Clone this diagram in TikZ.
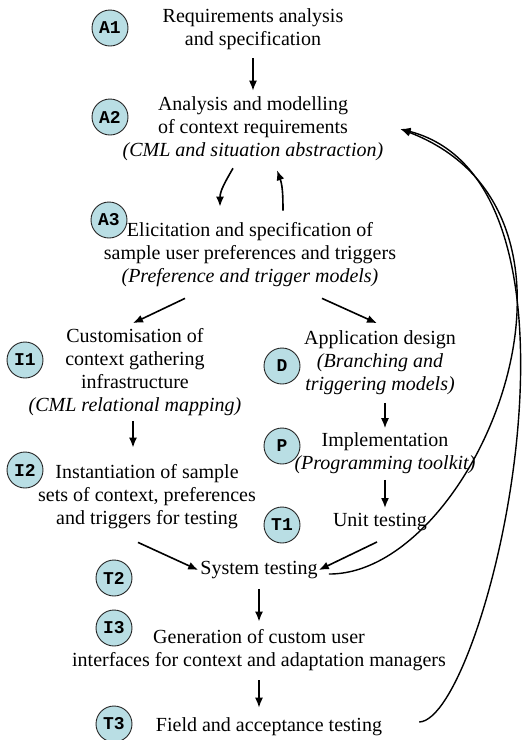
\documentclass[tikz,border=0pt]{standalone}
\usepackage{fontspec}
\setmainfont{Liberation Serif}
\setmonofont{Liberation Mono}
\usetikzlibrary{arrows.meta}
\definecolor{badgeblue}{RGB}{185,222,228}

\begin{document}
\begin{tikzpicture}[x=1pt,y=-1pt,
	badge/.style={circle,draw=black!85,line width=0.9pt,fill=badgeblue,minimum size=36pt,inner sep=0pt,font=\fontsize{18}{18}\selectfont\ttfamily\bfseries},
	stage/.style={align=center,inner sep=0pt,font=\fontsize{20}{23}\selectfont},
	arr/.style={-{Latex[length=10pt,width=8pt]},line width=1.6pt}]
	\useasboundingbox (0,0) rectangle (526,740);
	% badges
	\node[badge] (bA1) at (110,28) {A1};
	\node[badge] (bA2) at (110,117) {A2};
	\node[badge] (bA3) at (109,220) {A3};
	\node[badge] (bI1) at (25,360) {I1};
	\node[badge] (bI2) at (25,470) {I2};
	\node[badge] (bD) at (282,366) {D};
	\node[badge] (bP) at (282,446) {P};
	\node[badge] (bT1) at (282,525) {T1};
	\node[badge] (bT2) at (114,578) {T2};
	\node[badge] (bI3) at (114,628) {I3};
	\node[badge] (bT3) at (114,724) {T3};
	% stages
	\node[stage] (req) at (253,29.5) {Requirements analysis\\and specification};
	\node[stage] (ctx) at (253,129) {Analysis and modelling\\of context requirements\\\textit{(CML and situation abstraction)}};
	\node[stage] (pref) at (250,255) {Elicitation and specification of\\sample user preferences and triggers\\\textit{(Preference and trigger models)}};
	\node[stage] (infra) at (135,372) {Customisation of\\context gathering\\infrastructure\\\textit{(CML relational mapping)}};
	\node[stage] (inst) at (147,497) {Instantiation of sample\\sets of context, preferences\\and triggers for testing};
	\node[stage] (design) at (380,362.5) {Application design\\\textit{(Branching and}\\\textit{triggering models)}};
	\node[stage] (impl) at (385,453) {Implementation\\\textit{(Programming toolkit)}};
	\node[stage] (unit) at (380,522) {Unit testing};
	\node[stage] (sys) at (259,570) {System testing};
	\node[stage] (gui) at (259,650.5) {Generation of custom user\\interfaces for context and adaptation managers};
	\node[stage] (field) at (269,727) {Field and acceptance testing};
	% flow
	\draw[arr,shorten <=8pt,shorten >=6pt] (req) -- (ctx);
	\draw[arr] ([xshift=-20pt,yshift=-7pt]ctx.south) to[out=-120,in=90] ([xshift=-30pt,yshift=16pt]pref.north);
	\draw[arr] ([xshift=33pt,yshift=12pt]pref.north) to[out=90,in=-70] ([xshift=24pt,yshift=-9pt]ctx.south);
	\draw[arr] ([xshift=-65pt,yshift=-11pt]pref.south) -- ([xshift=-2pt,yshift=5pt]infra.north);
	\draw[arr] ([xshift=72pt,yshift=-11pt]pref.south) -- ([xshift=-3pt,yshift=7pt]design.north);
	\draw[arr,shorten <=5pt,shorten >=17pt] ([xshift=-2pt]infra.south) -- ([xshift=-2pt]infra.south |- inst.north);
	\draw[arr,shorten <=8pt,shorten >=4pt] (design.south -| impl) -- (impl.north);
	\draw[arr,shorten <=6pt,shorten >=5pt] (impl.south) -- (impl.south |- unit.north);
	\draw[arr] ([xshift=-9pt,yshift=-13pt]inst.south) -- ([xshift=-2pt]sys.west);
	\draw[arr] ([xshift=-3pt,yshift=-11pt]unit.south) -- ([xshift=1pt]sys.east);
	\draw[arr,shorten <=10pt,shorten >=8pt] (sys) -- (gui);
	\draw[arr,shorten <=9pt,shorten >=10pt] (gui.south) -- (gui.south |- field.north);
	% feedback loops
	\draw[arr,line width=1.4pt] ([xshift=11pt,yshift=-4pt]sys.east) .. controls (475,575) and (625,215) .. ([xshift=17pt]ctx.east);
	\draw[arr,line width=1.4pt] ([xshift=37pt,yshift=5pt]field.east) .. controls (485,720) and (615,185) .. ([xshift=17pt]ctx.east);
\end{tikzpicture}
\end{document}
